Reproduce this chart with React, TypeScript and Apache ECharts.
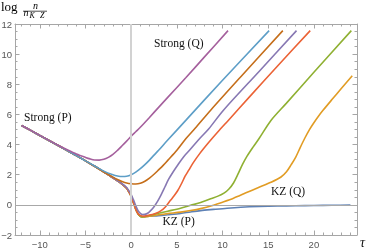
import React, { useEffect, useRef } from "react";
import * as echarts from "echarts";

// ---- axis ticks ----
const xMajorTicks = [-10, -5, 0, 5, 10, 15, 20];
const yMajorTicks = [-2, 0, 2, 4, 6, 8, 10, 12];
const xMinorTicks = [-12, -11, -9, -8, -7, -6, -4, -3, -2, -1, 1, 2, 3, 4, 6, 7, 8, 9, 11, 12, 13, 14, 16, 17, 18, 19, 21, 22, 23, 24];
const yMinorTicks = [-1.5, -1, -0.5, 0.5, 1, 1.5, 2.5, 3, 3.5, 4.5, 5, 5.5, 6.5, 7, 7.5, 8.5, 9, 9.5, 10.5, 11, 11.5];

// ---- curves: [tau, log n/nKZ] ----
const commonLeft: [number, number][] = [
  [-12, 5.27], [-11, 4.94], [-10, 4.6], [-9, 4.27], [-8, 3.94], [-7, 3.6], [-6, 3.27], [-5, 2.92],
];
const bundle: [number, number][] = [
  [-4, 2.56], [-3, 2.18], [-2.5, 1.99], [-2, 1.8], [-1.5, 1.6], [-1, 1.38], [-0.5, 1.1], [-0.25, 0.86],
  [0, 0.56], [0.25, 0.14], [0.5, -0.28], [0.75, -0.6], [1.0, -0.76], [1.2, -0.8],
];
const blueCurve: [number, number][] = [
  [2, -0.76], [3, -0.72], [4, -0.66], [5.4, -0.57], [6.5, -0.47], [7.6, -0.38], [9, -0.3], [10.5, -0.22],
  [12, -0.16], [14, -0.11], [16, -0.08], [18, -0.06], [20, -0.04], [22, -0.03], [24, -0.02],
];
const orangeCurve: [number, number][] = [
  [2, -0.75], [3, -0.66], [4, -0.58], [5.4, -0.48], [6.5, -0.38], [7.6, -0.25], [9, -0.02], [10, 0.18],
  [11.2, 0.44], [12.5, 0.78], [14, 1.17], [15.3, 1.5], [16.4, 1.85], [17, 2.2], [17.5, 2.65], [18, 3.15],
  [18.5, 3.8], [19, 4.42], [19.5, 4.98], [20, 5.45], [20.5, 5.88], [21, 6.27], [22, 7.0], [23, 7.72], [24.2, 8.56],
];
const greenCurve: [number, number][] = [
  [2, -0.7], [3, -0.56], [4, -0.42], [5.4, -0.22], [6.5, -0.03], [7.6, 0.15], [8.7, 0.4], [9.5, 0.58],
  [10.2, 0.8], [10.7, 1.05], [11.2, 1.45], [11.7, 2.05], [12.2, 2.7], [12.7, 3.25], [13.3, 3.8], [14, 4.4],
  [15.3, 5.6], [17, 6.75], [20, 8.8], [24.1, 11.56],
];
const redCurve: [number, number][] = [
  [1.3, -0.75], [1.6, -0.73], [2, -0.68], [2.5, -0.6], [3, -0.48], [3.5, -0.28], [3.9, -0.02], [4.3, 0.3],
  [4.7, 0.6], [5.1, 0.95], [5.5, 1.4], [5.9, 1.9], [6.3, 2.3], [6.8, 2.8], [7.5, 3.4], [8.5, 4.15],
  [9.5, 4.85], [10.7, 5.65], [13, 7.2], [16, 9.2], [19.6, 11.56],
];
const purpleCurve: [number, number][] = [
  [-4, 2.56], [-3, 2.18], [-2.5, 1.99], [-2, 1.8], [-1.5, 1.6], [-1, 1.4], [-0.5, 1.15], [-0.25, 0.93],
  [0, 0.68], [0.25, 0.33], [0.5, -0.05], [0.75, -0.38], [1.0, -0.56], [1.25, -0.64], [1.5, -0.63],
  [1.8, -0.56], [2.1, -0.4], [2.5, -0.12], [2.9, 0.25], [3.3, 0.7], [3.7, 1.2], [4.1, 1.7], [4.6, 2.2],
  [5.1, 2.65], [5.75, 3.2], [6.5, 3.7], [7.5, 4.4], [8.5, 5.05], [10.1, 6.28], [14, 8.85], [18.1, 11.56],
];
const darkOrangeCurve: [number, number][] = [
  [-4, 2.56], [-3, 2.18], [-2, 1.84], [-1.5, 1.68], [-1, 1.55], [-0.5, 1.45], [0, 1.4], [0.5, 1.38],
  [1, 1.43], [1.5, 1.57], [2, 1.78], [2.5, 2.03], [3, 2.32], [3.5, 2.62], [4, 2.95], [5, 3.62], [6, 4.4],
  [7, 5.08], [8.7, 6.28], [12, 8.5], [16.6, 11.56],
];
const lightBlueCurve: [number, number][] = [
  [-4, 2.58], [-3, 2.24], [-2, 2.0], [-1.5, 1.92], [-1, 1.88], [-0.5, 1.9], [0, 2.0], [0.5, 2.17],
  [1, 2.4], [1.5, 2.67], [2, 2.97], [2.5, 3.3], [3, 3.62], [4, 4.3], [6, 5.62], [10, 8.27], [15.1, 11.56],
];
const magentaCurve: [number, number][] = [
  [-12, 5.27], [-11, 4.94], [-10, 4.61], [-9, 4.28], [-8, 3.96], [-7, 3.66], [-6, 3.38], [-5, 3.15],
  [-4.5, 3.05], [-4, 2.98], [-3.5, 2.97], [-3, 3.02], [-2.5, 3.15], [-2, 3.35], [-1.5, 3.62], [-1, 3.92],
  [-0.5, 4.23], [0, 4.55], [0.5, 4.85], [1, 5.15], [2, 5.8], [3, 6.47], [4, 7.13], [6, 8.45], [8, 9.8],
  [10.6, 11.56],
];

const curveData: [number, number][][] = [
  [...commonLeft, ...bundle, ...blueCurve],
  [...commonLeft, ...bundle, ...orangeCurve],
  [...commonLeft, ...bundle, ...greenCurve],
  [...commonLeft, ...bundle.slice(0, 12), [0.75, -0.56], [1.0, -0.7], ...redCurve],
  [...commonLeft, ...purpleCurve],
  [...commonLeft, ...darkOrangeCurve],
  [...commonLeft, ...lightBlueCurve],
  magentaCurve,
];
const curveColors = ["#5E81B5", "#E19C24", "#8FB032", "#EB6235", "#8778B3", "#C56E1A", "#5D9EC7", "#A5609D"];

const X_MIN = -12.72;
const X_MAX = 24.72;
const FRAME = "#a6a6a6";
const LABEL = "#555555";

const fmt = (v: number) => (v < 0 ? "\u2212" + Math.abs(v) : String(v));

function xAxis(position: "top" | "bottom", ticks: number[], len: number, line: boolean, labels: boolean) {
  return {
    type: "value",
    min: X_MIN,
    max: X_MAX,
    position,
    splitLine: { show: false },
    axisLine: { show: line, onZero: false, lineStyle: { color: FRAME, width: 1 } },
    axisTick: { show: true, inside: true, length: len, customValues: ticks, lineStyle: { color: FRAME, width: 1 } },
    axisLabel: labels
      ? { show: true, customValues: ticks, formatter: fmt, color: LABEL, fontSize: 9.5, fontFamily: "Liberation Sans", margin: 4 }
      : { show: false },
  };
}
function yAxis(position: "left" | "right", ticks: number[], len: number, line: boolean, labels: boolean) {
  return {
    type: "value",
    min: -2,
    max: 12,
    position,
    splitLine: { show: false },
    axisLine: { show: line, onZero: false, lineStyle: { color: FRAME, width: 1 } },
    axisTick: { show: true, inside: true, length: len, customValues: ticks, lineStyle: { color: FRAME, width: 1 } },
    axisLabel: labels
      ? { show: true, customValues: ticks, formatter: fmt, color: LABEL, fontSize: 9.5, fontFamily: "Liberation Sans", margin: 3 }
      : { show: false },
  };
}

export default function App() {
  const ref = useRef<HTMLDivElement>(null);
  useEffect(() => {
    if (!ref.current) return;
    const chart = echarts.init(ref.current, undefined, { renderer: "svg" });
    const serif = "Liberation Serif";
    const option: any = {
      animation: false,
      grid: { left: 15, right: 17, top: 24, bottom: 13, containLabel: false, outerBoundsMode: "none" },
      xAxis: [
        xAxis("bottom", xMajorTicks, 4.5, true, true),
        xAxis("bottom", xMinorTicks, 2.5, false, false),
        xAxis("top", xMajorTicks, 4.5, true, false),
        xAxis("top", xMinorTicks, 2.5, false, false),
      ],
      yAxis: [
        yAxis("left", yMajorTicks, 4.5, true, true),
        yAxis("left", yMinorTicks, 2.5, false, false),
        yAxis("right", yMajorTicks, 4.5, true, false),
        yAxis("right", yMinorTicks, 2.5, false, false),
      ],
      series: [
        {
          type: "line",
          data: [],
          z: 1,
          silent: true,
          markLine: {
            silent: true,
            symbol: "none",
            animation: false,
            label: { show: false },
            data: [
              { xAxis: 0, lineStyle: { color: "#d2d2d2", width: 2, type: "solid" } },
              { yAxis: 0, lineStyle: { color: "#a8a8a8", width: 1, type: "solid" } },
            ],
          },
        },
        ...curveData.map((d, i) => ({
          type: "line",
          data: d,
          z: 3,
          showSymbol: false,
          smooth: 0.3,
          lineStyle: { color: curveColors[i], width: 1.6 },
          itemStyle: { color: curveColors[i] },
        })),
      ],
      graphic: [
        { type: "text", left: 1, top: 0, style: { text: "log", font: `13px ${serif}`, fill: "#000" } },
        { type: "text", x: 35.5, y: 10, style: { text: "n", font: `italic 10px ${serif}`, fill: "#000", textAlign: "center", textVerticalAlign: "bottom" } },
        { type: "line", shape: { x1: 23, y1: 11.2, x2: 47, y2: 11.2 }, style: { stroke: "#000", lineWidth: 0.7 } },
        { type: "text", x: 23.5, y: 17.5, style: { text: "n", font: `italic 10px ${serif}`, fill: "#000", textVerticalAlign: "bottom" } },
        { type: "text", x: 29.5, y: 19.5, style: { text: "K", font: `italic 8px ${serif}`, fill: "#000", textVerticalAlign: "bottom" } },
        { type: "text", x: 40, y: 19.5, style: { text: "Z", font: `italic 8px ${serif}`, fill: "#000", textVerticalAlign: "bottom" } },
        { type: "text", x: 24, y: 116.5, style: { text: "Strong (P)", font: `11.5px ${serif}`, fill: "#111", textVerticalAlign: "middle" } },
        { type: "text", x: 154, y: 43.3, style: { text: "Strong (Q)", font: `11.5px ${serif}`, fill: "#111", textVerticalAlign: "middle" } },
        { type: "text", x: 271, y: 191, style: { text: "KZ (Q)", font: `11.5px ${serif}`, fill: "#111", textVerticalAlign: "middle" } },
        { type: "text", x: 162.5, y: 221, style: { text: "KZ (P)", font: `11.5px ${serif}`, fill: "#111", textVerticalAlign: "middle" } },
        { type: "text", x: 362.5, y: 242, style: { text: "τ", font: `italic 14px ${serif}`, fill: "#111", textAlign: "center", textVerticalAlign: "middle" } },
      ],
    };
    chart.setOption(option);
    return () => chart.dispose();
  }, []);
  return <div ref={ref} style={{ position: "fixed", left: 0, top: 0, width: 374, height: 248 }} />;
}
